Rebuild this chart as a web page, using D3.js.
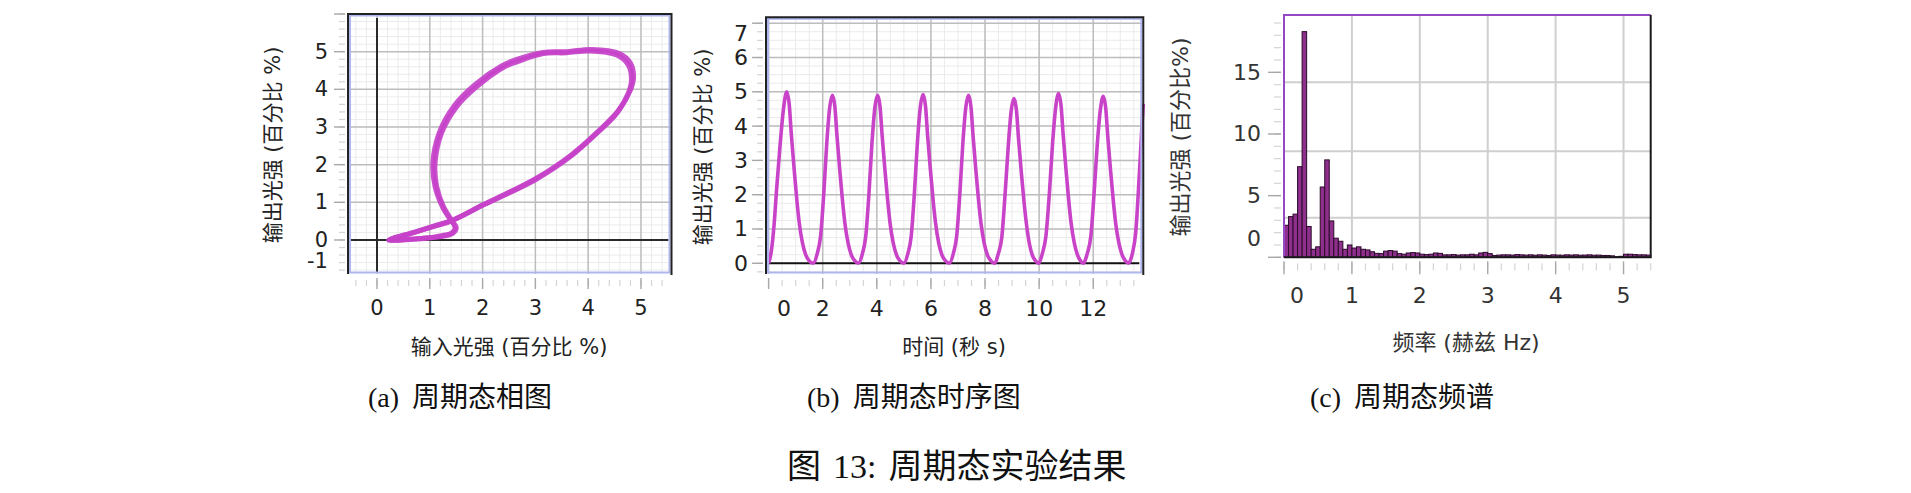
<!DOCTYPE html>
<html><head><meta charset="utf-8">
<script src="https://cdn.jsdelivr.net/npm/d3@7/dist/d3.min.js"></script>
<style>body{margin:0;background:#fff}svg{display:block}</style>
</head><body>
<script>
// ---------- DATA ----------
// (a) phase portrait: two overlapping traced loops (input %, output %)
const loopAx = [0.22,0.7,1.1,1.4,2.0,2.5,3.0,3.65,4.16,4.54,4.76,4.82,4.76,4.54,4.03,3.59,3.15,2.65,2.39,1.89,1.51,1.22,1.1,1.13,1.26,1.41,1.48,1.41,1.13,0.63];
const loopAy = [0.0,0.2,0.37,0.5,0.92,1.25,1.6,2.2,2.83,3.36,3.9,4.25,4.65,4.91,5.02,4.97,4.95,4.73,4.58,4.07,3.54,2.83,2.04,1.42,0.88,0.53,0.31,0.18,0.09,0.02];
const loopBx = [0.25,0.72,1.1,1.42,2.02,2.52,3.02,3.68,4.2,4.58,4.8,4.86,4.8,4.58,4.06,3.6,3.15,2.62,2.36,1.85,1.47,1.18,1.06,1.1,1.24,1.39,1.5,1.43,1.15,0.65];
const loopBy = [0.0,0.21,0.38,0.52,0.94,1.28,1.64,2.26,2.9,3.45,3.98,4.32,4.7,4.96,5.06,5.0,4.98,4.78,4.62,4.12,3.58,2.85,2.05,1.42,0.88,0.54,0.33,0.17,0.08,0.02];
const aXTicks = [0,1,2,3,4,5];
const aYTicks = [-1,0,1,2,3,4,5];

// (b) time series: time (s) and output (%)
const seriesT = [0,0.1,0.2,0.3,0.42,0.55,0.67,0.76,0.84,0.94,1.04,1.13,1.25,1.37,1.5,1.65,
 1.8,1.92,2.04,2.15,2.26,2.36,2.45,2.53,2.63,2.73,2.82,2.94,3.06,3.19,3.32,
 3.47,3.59,3.71,3.82,3.93,4.03,4.12,4.2,4.3,4.4,4.49,4.61,4.73,4.86,5.0,
 5.15,5.27,5.39,5.5,5.61,5.71,5.8,5.88,5.98,6.08,6.17,6.29,6.41,6.54,6.68,
 6.83,6.95,7.07,7.18,7.29,7.39,7.48,7.56,7.66,7.76,7.85,7.97,8.09,8.22,8.34,
 8.49,8.62,8.74,8.86,8.97,9.07,9.16,9.24,9.34,9.44,9.53,9.64,9.75,9.87,9.97,
 10.12,10.25,10.38,10.5,10.62,10.72,10.81,10.89,10.99,11.09,11.18,11.3,11.42,11.53,11.63,
 11.78,11.91,12.03,12.15,12.27,12.37,12.46,12.54,12.64,12.74,12.83,12.95,13.07,13.19,13.3,
 13.45,13.57,13.69,13.8,13.85];
const seriesV = [0,0.35,1.1,2.2,3.4,4.5,5.0,4.65,3.76,2.78,1.88,1.2,0.6,0.25,0.07,0,
 0.29,0.78,2.04,3.5,4.55,4.9,4.56,3.69,2.72,1.84,1.17,0.58,0.24,0.07,0,
 0.29,0.78,2.04,3.5,4.55,4.9,4.56,3.69,2.72,1.84,1.17,0.58,0.24,0.07,0,
 0.29,0.78,2.05,3.52,4.57,4.92,4.58,3.7,2.73,1.85,1.18,0.58,0.24,0.07,0,
 0.29,0.78,2.04,3.5,4.55,4.9,4.56,3.69,2.72,1.84,1.17,0.58,0.24,0.07,0,
 0.28,0.76,2.0,3.43,4.46,4.8,4.47,3.61,2.66,1.8,1.15,0.57,0.23,0.07,0,
 0.29,0.79,2.06,3.54,4.6,4.95,4.6,3.72,2.75,1.86,1.18,0.59,0.24,0.07,0,
 0.29,0.78,2.03,3.48,4.52,4.87,4.53,3.67,2.7,1.83,1.16,0.58,0.24,0.07,0,
 0.3,0.9,2.4,4.0,4.65];
const bXTicks = [0,2,4,6,8,10,12];
const bYTicks = [0,1,2,3,4,5,6,7];

// (c) spectrum: amplitude per frequency bin (bin width 1/15 Hz)
const binWidth = 1/15;
const specV = [2.6,3.3,3.5,7.35,18.3,2.5,0.65,0.85,5.7,7.9,2.95,1.55,1.3,0.65,1.0,0.75,0.85,0.65,0.6,0.45,
 0.32,0.3,0.5,0.55,0.5,0.3,0.25,0.35,0.38,0.35,0.25,0.22,0.25,0.35,0.32,0.2,0.2,0.22,0.18,0.2,
 0.2,0.25,0.2,0.35,0.4,0.3,0.15,0.18,0.2,0.2,0.18,0.22,0.2,0.18,0.2,0.17,0.2,0.18,0.15,0.2,
 0.18,0.17,0.2,0.18,0.2,0.17,0.18,0.2,0.17,0.18,0.15,0.15,0.12,0.05,0.08,0.25,0.25,0.22,0.2,0.2,0.18];
const cXTicks = [0,1,2,3,4,5];
const cYTicks = [0,5,10,15];
const cGridY = [3.2,8.6,14.2];

const capLabels = ["(a)","(b)","(c)"];
const capTexts = ["周期态相图","周期态时序图","周期态频谱"];
const figLabel = "图 13:";
const figText = "周期态实验结果";

// ---------- DRAW ----------
const W=1911,H=493;
const SANS = "'DejaVu Sans','Noto Sans CJK SC',sans-serif";
const SERIF = "'Liberation Serif','Noto Sans CJK SC',serif";
const svg=d3.select('body').append('svg').attr('width',W).attr('height',H);
svg.append('rect').attr('width',W).attr('height',H).attr('fill','#fff');

function vals(dom, step){
  const s=Math.ceil(dom[0]/step-1e-9), e=Math.floor(dom[1]/step+1e-9);
  return d3.range(s,e+1).map(k=>+(k*step).toFixed(6));
}
function hl(g,arr,x1,x2,yf,col,w){g.selectAll(null).data(arr).join('line').attr('x1',x1).attr('x2',x2).attr('y1',yf).attr('y2',yf).attr('stroke',col).attr('stroke-width',w);}
function vl(g,arr,y1,y2,xf,col,w){g.selectAll(null).data(arr).join('line').attr('y1',y1).attr('y2',y2).attr('x1',xf).attr('x2',xf).attr('stroke',col).attr('stroke-width',w);}

function panel(o){
  const g=svg.append('g');
  const x=d3.scaleLinear().domain(o.xDom).range([o.L,o.R]);
  const y=d3.scaleLinear().domain(o.yDom).range([o.B,o.T]);
  g.append('rect').attr('x',o.L).attr('y',o.T).attr('width',o.R-o.L).attr('height',o.B-o.T).attr('fill','#fff');
  if(o.minorX) vl(g,vals(o.xDom,o.minorX),o.T,o.B,d=>x(d),'#ebebeb',1);
  if(o.minorY) hl(g,vals(o.yDom,o.minorY),o.L,o.R,d=>y(d),'#ebebeb',1);
  vl(g,o.gridX.filter(d=>x(d)>o.L+1&&x(d)<o.R-1),o.T,o.B,d=>x(d),o.gridCol,o.gridW);
  hl(g,o.gridY.filter(d=>y(d)>o.T+1&&y(d)<o.B-1),o.L,o.R,d=>y(d),o.gridCol,o.gridW);
  hl(g,vals(o.yDom,o.tickMinorY),o.L-o.tlMinor-3,o.L-3,d=>y(d),'#d4d4d4',1.2);
  hl(g,vals(o.yDom,o.tickMajorY),o.L-o.tlMajor-3,o.L-3,d=>y(d),'#a8a8a8',1.4);
  vl(g,vals(o.xDom,o.tickMinorX),o.B+6,o.B+6+o.tlMinor,d=>x(d),'#d4d4d4',1.2);
  vl(g,vals(o.xDom,o.tickMajorX),o.B+4,o.B+4+o.tlMajor,d=>x(d),'#a8a8a8',1.4);
  g.selectAll(null).data(o.xTicks).join('text')
    .attr('x',d=>Math.max(x(d),o.L+o.padXL)).attr('y',o.xLabY)
    .attr('text-anchor','middle').attr('dominant-baseline','central')
    .attr('font-family',SANS).attr('font-size',o.fs).attr('fill',o.labCol).text(d=>d);
  g.selectAll(null).data(o.yTicks).join('text')
    .attr('x',o.yLabX).attr('y',d=>Math.min(Math.max(y(d),o.T+o.padYT),o.B-o.padYB))
    .attr('text-anchor','end').attr('dominant-baseline','central')
    .attr('font-family',SANS).attr('font-size',o.fs).attr('fill',o.labCol).text(d=>d);
  g.append('text').attr('x',o.xTitle[0]).attr('y',o.xTitle[1]).attr('text-anchor','middle').attr('dominant-baseline','central')
    .attr('font-family',SANS).attr('font-size',o.tfs).attr('fill',o.labCol).text(o.xTitleText);
  g.append('text').attr('transform',`translate(${o.yTitle[0]},${o.yTitle[1]}) rotate(-90)`).attr('text-anchor','middle').attr('dominant-baseline','central')
    .attr('font-family',SANS).attr('font-size',o.tfs).attr('fill',o.labCol).text(o.yTitleText);
  return {g,x,y};
}

// ---- panel (a)
const pa = {L:348,R:671.5,T:14,B:274,xDom:[-0.549,5.578],yDom:[-0.903,6.0],
  minorX:0.2,minorY:0.2,gridX:aXTicks,gridY:aYTicks.filter(d=>d!==0),gridCol:'#bdbdbd',gridW:1.5,
  tickMinorX:0.2,tickMajorX:1,tickMinorY:0.2,tickMajorY:1,tlMinor:6,tlMajor:11,
  xTicks:aXTicks,yTicks:aYTicks,xLabY:308,yLabX:328,fs:21,tfs:21,labCol:'#222',
  padXL:0,padYT:0,padYB:13,
  xTitle:[509,347],xTitleText:'输入光强 (百分比 %)',yTitle:[273,145],yTitleText:'输出光强 (百分比 %)'};
const A=panel(pa);
A.g.append('line').attr('x1',pa.L+3).attr('x2',pa.R-3).attr('y1',A.y(0)).attr('y2',A.y(0)).attr('stroke','#2a2a2a').attr('stroke-width',2);
A.g.append('line').attr('x1',A.x(0)).attr('x2',A.x(0)).attr('y1',pa.T+4).attr('y2',pa.B-2).attr('stroke','#2a2a2a').attr('stroke-width',2);
const loopLine=d3.line().x(d=>A.x(d[0])).y(d=>A.y(d[1])).curve(d3.curveCatmullRomClosed.alpha(0.5));
[[loopAx,loopAy],[loopBx,loopBy]].forEach(([lx,ly])=>{
  A.g.append('path').attr('d',loopLine(d3.zip(lx,ly))).attr('fill','none')
   .attr('stroke','#c642c9').attr('stroke-width',5).attr('stroke-opacity',0.92).attr('stroke-linejoin','round');
});
function frameAB(o){
  const g=svg.append('g');
  g.append('rect').attr('x',o.L+2).attr('y',o.T+1.5).attr('width',o.R-o.L-4).attr('height',o.B-o.T-3)
   .attr('fill','none').attr('stroke','#aeb6ee').attr('stroke-width',2);
  g.append('path').attr('d',`M${o.L},${o.B}V${o.T}H${o.R}V${o.B+1}`).attr('fill','none').attr('stroke','#222').attr('stroke-width',2);
}
frameAB(pa);

// ---- panel (b)
const pb = {L:766,R:1143.3,T:17.3,B:274,xDom:[-0.096,13.85],yDom:[-0.312,7.172],
  minorX:0.5,minorY:0.25,gridX:bXTicks,gridY:bYTicks.filter(d=>d!==0),gridCol:'#bdbdbd',gridW:1.5,
  tickMinorX:0.5,tickMajorX:2,tickMinorY:0.25,tickMajorY:1,tlMinor:6,tlMajor:11,
  xTicks:bXTicks,yTicks:bYTicks,xLabY:308,yLabX:748,fs:22,tfs:21,labCol:'#222',
  padXL:18,padYT:16,padYB:0,
  xTitle:[954,347],xTitleText:'时间 (秒 s)',yTitle:[703,147],yTitleText:'输出光强 (百分比 %)'};
const B=panel(pb);
B.g.append('line').attr('x1',pb.L+1).attr('x2',pb.R-4).attr('y1',B.y(0)).attr('y2',B.y(0)).attr('stroke','#111').attr('stroke-width',2);
const tsLine=d3.line().x(d=>B.x(d[0])).y(d=>B.y(d[1])).curve(d3.curveMonotoneX);
B.g.append('path').attr('d',tsLine(d3.zip(seriesT,seriesV))).attr('fill','none')
  .attr('stroke','#c943c9').attr('stroke-width',3.6).attr('stroke-linejoin','round');
frameAB(pb);

// ---- panel (c)
const pc = {L:1284,R:1650.7,T:15,B:257.3,xDom:[0,5.4],yDom:[0,19.65],
  minorX:0,minorY:0,gridX:cXTicks,gridY:cGridY,gridCol:'#cfcfcf',gridW:2,
  tickMinorX:0.2,tickMajorX:1,tickMinorY:1,tickMajorY:5,tlMinor:7,tlMajor:13,
  xTicks:cXTicks,yTicks:cYTicks,xLabY:295,yLabX:1261,fs:22,tfs:22,labCol:'#333',
  padXL:13,padYT:0,padYB:19,
  xTitle:[1466,342],xTitleText:'频率 (赫兹 Hz)',yTitle:[1180,137],yTitleText:'输出光强 (百分比%)'};
const C=panel(pc);
C.g.selectAll(null).data(specV).join('rect')
  .attr('x',(d,i)=>C.x(i*binWidth)).attr('width',C.x(binWidth)-C.x(0))
  .attr('y',d=>C.y(d)).attr('height',d=>C.y(0)-C.y(d))
  .attr('fill','#8e2f8c').attr('stroke','#2b0b2a').attr('stroke-width',1);
C.g.append('path').attr('d',`M${pc.L},${pc.B}V${pc.T}H${pc.R}`).attr('fill','none').attr('stroke','#9448c4').attr('stroke-width',2);
C.g.append('path').attr('d',`M${pc.R},${pc.T}V${pc.B}H${pc.L}`).attr('fill','none').attr('stroke','#1a1a1a').attr('stroke-width',2);

// ---- captions
const capX=[368,807,1310];
capLabels.forEach((lab,i)=>{
  const t=svg.append('text').attr('x',capX[i]).attr('y',397).attr('dominant-baseline','central')
    .attr('font-family',SERIF).attr('font-size',28).attr('fill','#111');
  t.append('tspan').text(lab);
  t.append('tspan').attr('dx',13).text(capTexts[i]);
});
const ft=svg.append('text').attr('x',787).attr('y',466).attr('dominant-baseline','central')
  .attr('font-family',SERIF).attr('font-size',34).attr('fill','#111');
ft.append('tspan').text(figLabel.split(' ')[0]);
ft.append('tspan').attr('dx',12).text(figLabel.split(' ')[1]);
ft.append('tspan').attr('dx',12).text(figText);
</script>
</body></html>
